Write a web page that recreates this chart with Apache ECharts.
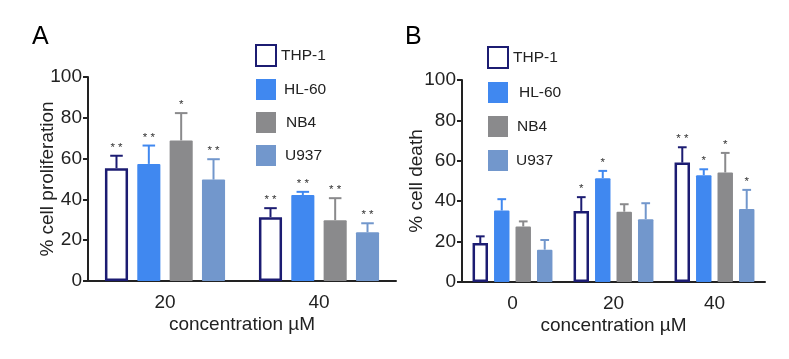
<!DOCTYPE html>
<html><head><meta charset="utf-8">
<script src="https://cdn.jsdelivr.net/npm/echarts@6/dist/echarts.min.js"></script>
<style>html,body{margin:0;padding:0;background:#fff}#c{width:789px;height:359px}</style>
</head><body><div id="c"></div>
<script>
var seriesNames = ['THP-1', 'HL-60', 'NB4', 'U937'];
var catsA = ['20', '40'];
var catsB = ['0', '20', '40'];
var yTicks = [0, 20, 40, 60, 80, 100];

// Panel A: % cell proliferation
var A_THP1 = [55.3, 31.3], A_THP1_err = [6.1, 4.4], A_THP1_sig = ['**', '**'];
var A_HL60 = [57.4, 42.1], A_HL60_err = [9.0, 1.6], A_HL60_sig = ['**', '**'];
var A_NB4 = [68.9, 29.8], A_NB4_err = [13.4, 10.8], A_NB4_sig = ['*', '**'];
var A_U937 = [49.7, 23.9], A_U937_err = [10.0, 4.4], A_U937_sig = ['**', '**'];

// Panel B: % cell death
var B_THP1 = [19.3, 35.2, 59.1], B_THP1_err = [3.3, 6.8, 7.6], B_THP1_sig = ['', '*', '**'];
var B_HL60 = [35.4, 51.4, 52.9], B_HL60_err = [5.6, 3.6, 2.9], B_HL60_sig = ['', '*', '*'];
var B_NB4 = [27.5, 34.8, 54.2], B_NB4_err = [2.5, 3.7, 9.7], B_NB4_sig = ['', '', '*'];
var B_U937 = [16.0, 31.1, 36.2], B_U937_err = [4.8, 7.9, 9.4], B_U937_sig = ['', '', '*'];

var colors = ['#1c1c72', '#4088f0', '#8a8a8c', '#7297cc'];
var FONT = 'Liberation Sans, Arial, sans-serif';
var TXT = '#222';

var panels = [
  {cats: catsA, vals: [A_THP1, A_HL60, A_NB4, A_U937], errs: [A_THP1_err, A_HL60_err, A_NB4_err, A_U937_err],
   sigs: [A_THP1_sig, A_HL60_sig, A_NB4_sig, A_U937_sig], yname: '% cell proliferation', ygap: 31,
   grid: {left: 88, right: 393, top: 77, bottom: 78}, barPct: 0.15, gapPct: 0.40},
  {cats: catsB, vals: [B_THP1, B_HL60, B_NB4, B_U937], errs: [B_THP1_err, B_HL60_err, B_NB4_err, B_U937_err],
   sigs: [B_THP1_sig, B_HL60_sig, B_NB4_sig, B_U937_sig], yname: '% cell death', ygap: 36,
   grid: {left: 462, right: 24, top: 80, bottom: 77}, barPct: 0.153, gapPct: 0.39}
];

var grids = [], xAxes = [], yAxes = [], series = [], legends = [];
panels.forEach(function (p, pi) {
  grids.push(p.grid);
  xAxes.push({
    type: 'category', gridIndex: pi, data: p.cats,
    axisLine: {lineStyle: {color: TXT, width: 2}}, axisTick: {show: false},
    axisLabel: {fontSize: 19, color: TXT, fontFamily: FONT, margin: 12},
    name: 'concentration µM', nameLocation: 'middle', nameGap: 34, nameMoveOverlap: false,
    nameTextStyle: {fontSize: 19, color: TXT, fontFamily: FONT}
  });
  yAxes.push({
    type: 'value', gridIndex: pi, min: yTicks[0], max: yTicks[yTicks.length - 1], interval: 20,
    splitLine: {show: false},
    axisLine: {show: true, lineStyle: {color: TXT, width: 2}},
    axisTick: {show: true, length: 5, lineStyle: {width: 2, color: TXT}},
    axisLabel: {fontSize: 19, color: TXT, fontFamily: FONT, margin: 6},
    name: p.yname, nameLocation: 'middle', nameGap: p.ygap, nameRotate: 90, nameMoveOverlap: false,
    nameTextStyle: {fontSize: 19, color: TXT, fontFamily: FONT}
  });
  seriesNames.forEach(function (nm, si) {
    var isHollow = si === 0;
    series.push({
      type: 'bar', name: nm, xAxisIndex: pi, yAxisIndex: pi,
      data: p.vals[si], barWidth: (p.barPct * 100) + '%', barGap: (p.gapPct * 100) + '%',
      itemStyle: isHollow ? {color: '#fff', borderColor: colors[0], borderWidth: 2.5}
                          : {color: colors[si], borderRadius: 1},
      z: 2
    });
    (function (vals, errs, sigs, col, idx) {
      var cdata = vals.map(function (v, i) { return [i, v, errs[i], sigs[i]]; });
      series.push({
        type: 'custom', name: nm + ' err', xAxisIndex: pi, yAxisIndex: pi,
        data: cdata, z: 1, silent: true,
        renderItem: function (params, api) {
          var ci = api.value(0), v = api.value(1), e = api.value(2);
          var sig = cdata[params.dataIndex][3];
          var band = api.size([1, 0])[0];
          var bw = band * p.barPct, gap = bw * p.gapPct;
          var off = (idx - 1.5) * (bw + gap);
          var base = api.coord([ci, v]);
          var top = api.coord([ci, v + e]);
          var x = base[0] + off;
          var cap = bw * 0.5;
          var children = [
            {type: 'line', shape: {x1: x, y1: base[1], x2: x, y2: top[1]}, style: {stroke: col, lineWidth: 2}},
            {type: 'line', shape: {x1: x - cap / 2 - 0.5, y1: top[1], x2: x + cap / 2 + 0.5, y2: top[1]}, style: {stroke: col, lineWidth: 2}}
          ];
          if (sig) {
            children.push({type: 'text', x: x, y: top[1] - 2,
              style: {text: sig.split('').join(' '), fill: '#333', font: '11.5px ' + FONT, align: 'center', verticalAlign: 'bottom'}});
          }
          return {type: 'group', children: children};
        }
      });
    })(p.vals[si], p.errs[si], p.sigs[si], colors[si], si);
  });
});

var padA = [0, 3, 5, 4], padB = [0, 6, 4, 3];
legends.push({
  orient: 'vertical', left: 250, top: 39, itemWidth: 20, itemHeight: 21, itemGap: 12, icon: 'rect',
  textStyle: {fontSize: 15.5, color: TXT, fontFamily: FONT},
  data: seriesNames.map(function (n, i) { return {name: n, textStyle: {padding: [0, 0, 0, padA[i]]}}; })
});
legends.push({
  orient: 'vertical', left: 482, top: 41, itemWidth: 20, itemHeight: 21, itemGap: 13, icon: 'rect',
  textStyle: {fontSize: 15.5, color: TXT, fontFamily: FONT},
  data: seriesNames.map(function (n, i) { return {name: n, textStyle: {padding: [0, 0, 0, padB[i]]}}; })
});

var chart = echarts.init(document.getElementById('c'), null, {renderer: 'canvas'});
chart.setOption({
  animation: false,
  backgroundColor: '#fff',
  color: colors,
  title: [
    {text: 'A', left: 27, top: 20, textStyle: {fontSize: 25, fontWeight: 'normal', color: '#000', fontFamily: FONT}},
    {text: 'B', left: 400, top: 20, textStyle: {fontSize: 25, fontWeight: 'normal', color: '#000', fontFamily: FONT}}
  ],
  legend: legends,
  grid: grids, xAxis: xAxes, yAxis: yAxes, series: series
});
</script></body></html>
